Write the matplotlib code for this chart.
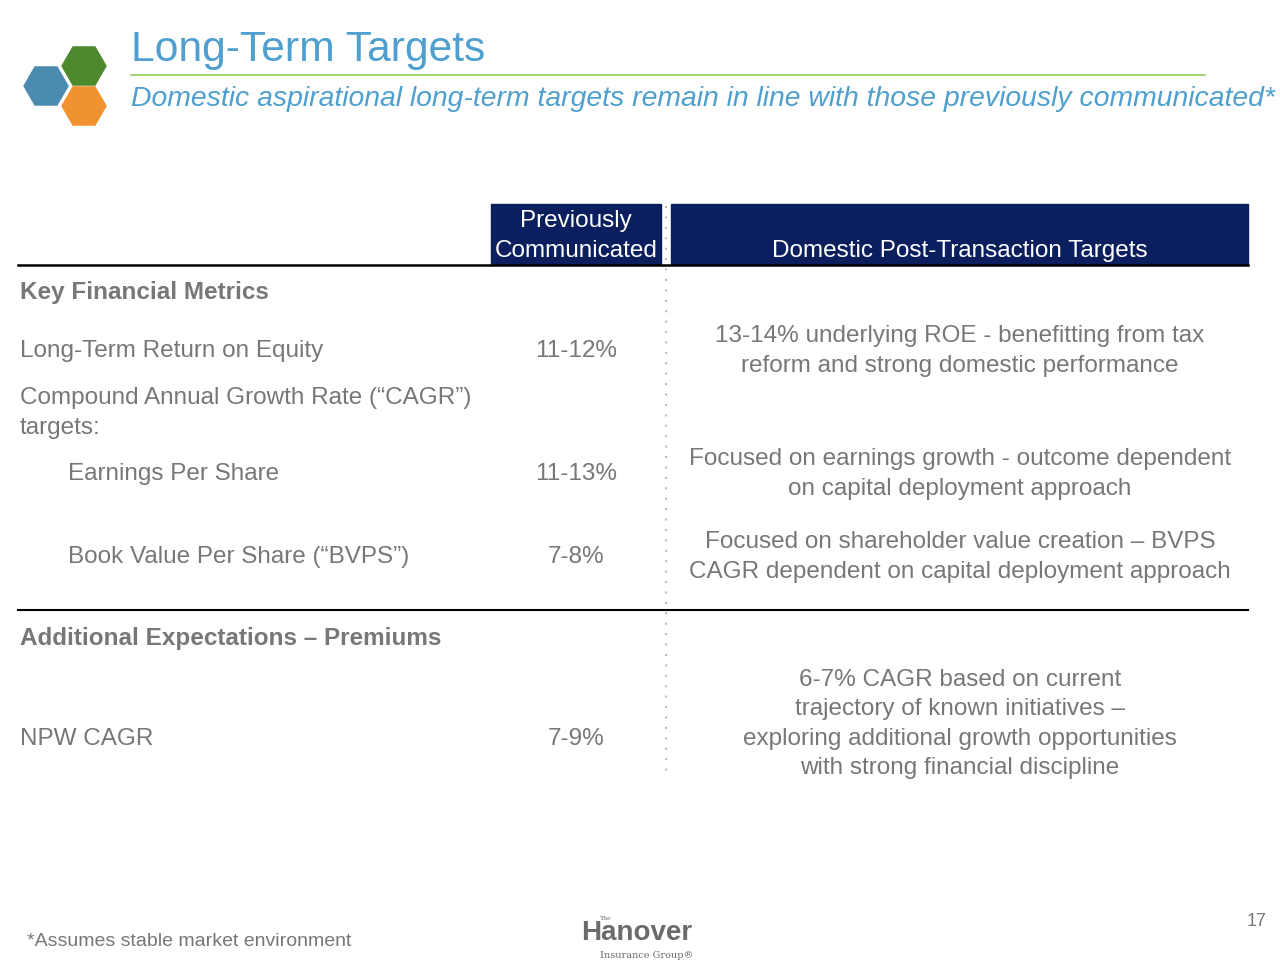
import matplotlib
matplotlib.use("Agg")
from matplotlib import pyplot as plt
from matplotlib.patches import Rectangle, RegularPolygon
import math

plt.rcParams['font.family'] = ['Liberation Sans', 'DejaVu Sans']

title = "Long-Term Targets"
subtitle = "Domestic aspirational long-term targets remain in line with those previously communicated*"
col_headers = ["Previously\nCommunicated", "Domestic Post-Transaction Targets"]

# (label, indent, bold, previous, target, y of row)
row_labels = ["Key Financial Metrics",
              "Long-Term Return on Equity",
              "Compound Annual Growth Rate (\u201cCAGR\u201d)\ntargets:",
              "Earnings Per Share",
              "Book Value Per Share (\u201cBVPS\u201d)",
              "Additional Expectations \u2013 Premiums",
              "NPW CAGR"]
row_indent = [0, 0, 0, 1, 1, 0, 0]
row_bold = [True, False, False, False, False, True, False]
previous = ["", "11-12%", "", "11-13%", "7-8%", "", "7-9%"]
targets = ["",
           "13-14% underlying ROE - benefitting from tax\nreform and strong domestic performance",
           "",
           "Focused on earnings growth - outcome dependent\non capital deployment approach",
           "Focused on shareholder value creation \u2013 BVPS\nCAGR dependent on capital deployment approach",
           "",
           "6-7% CAGR based on current\ntrajectory of known initiatives \u2013\nexploring additional growth opportunities\nwith strong financial discipline"]
row_y = [293, 351, 413, 474, 557, 638, 739]
target_y = [0, 351, 0, 474, 557, 0, 724]

footnote = "*Assumes stable market environment"
page_no = "17"

GREY = "#777777"
NAVY = "#0b1f5e"
TITLE_BLUE = "#4f9fcf"
LS = 1.44  # line spacing of the wrapped cells

fig = plt.figure(figsize=(12.8, 9.6), dpi=100)
ax = fig.add_axes([0, 0, 1, 1])
ax.set_xlim(0, 1280)
ax.set_ylim(960, 0)
ax.axis('off')

# logo hexagons
r = 22
for (cx, cy), col in [((46, 86), "#4b8bb0"), ((84, 66), "#4e8a2d"), ((84, 106), "#f0922f")]:
    ax.add_patch(RegularPolygon((cx, cy), 6, radius=r, orientation=math.pi / 6, color=col))

ax.text(131, 50, title, fontsize=30.7, color=TITLE_BLUE, va='center', ha='left')
ax.plot([131, 1205], [75, 75], color="#9acd5a", lw=1.2)
ax.text(131, 99, subtitle, fontsize=20.4, color=TITLE_BLUE, style='italic', va='center', ha='left')

# header boxes
ax.add_patch(Rectangle((491, 204), 170, 60, color=NAVY))
ax.add_patch(Rectangle((671, 204), 577, 60, color=NAVY))
ax.text(576, 236, col_headers[0], fontsize=17.5, color='white', ha='center', va='center', linespacing=LS)
ax.text(960, 251, col_headers[1], fontsize=17.5, color='white', ha='center', va='center')

ax.plot([18, 1248], [264.5, 264.5], color='black', lw=1.8)
ax.plot([18, 1248], [609.5, 609.5], color='black', lw=1.5)
ax.plot([666, 666], [206, 778], color='#bbbbbb', lw=1.5, ls=(0, (1, 4)))

for lab, ind, b, prev, tgt, y, ty in zip(row_labels, row_indent, row_bold, previous, targets, row_y, target_y):
    ax.text(20 + 48 * ind, y, lab, fontsize=17.5, color=GREY, ha='left', va='center',
            fontweight='bold' if b else 'normal', linespacing=LS)
    if prev:
        ax.text(576, y, prev, fontsize=17.5, color=GREY, ha='center', va='center')
    if tgt:
        ax.text(960, ty, tgt, fontsize=17.5, color=GREY, ha='center', va='center', linespacing=LS)

# footer
ax.text(27, 941, footnote, fontsize=14, color=GREY, ha='left', va='center')
ax.text(1257, 922, page_no, fontsize=13, color=GREY, ha='center', va='center')
ax.text(637, 933, "Hanover", fontsize=20, fontweight='bold', color="#6b6b6b", ha='center', va='center')
ax.text(600, 918, "The", fontsize=4.5, color="#6b6b6b", ha='left', va='center', family='serif')
ax.text(647, 955, "Insurance Group\u00ae", fontsize=7, color="#6b6b6b", ha='center', va='center', family='serif')

fig.savefig("out.png", dpi=100)
